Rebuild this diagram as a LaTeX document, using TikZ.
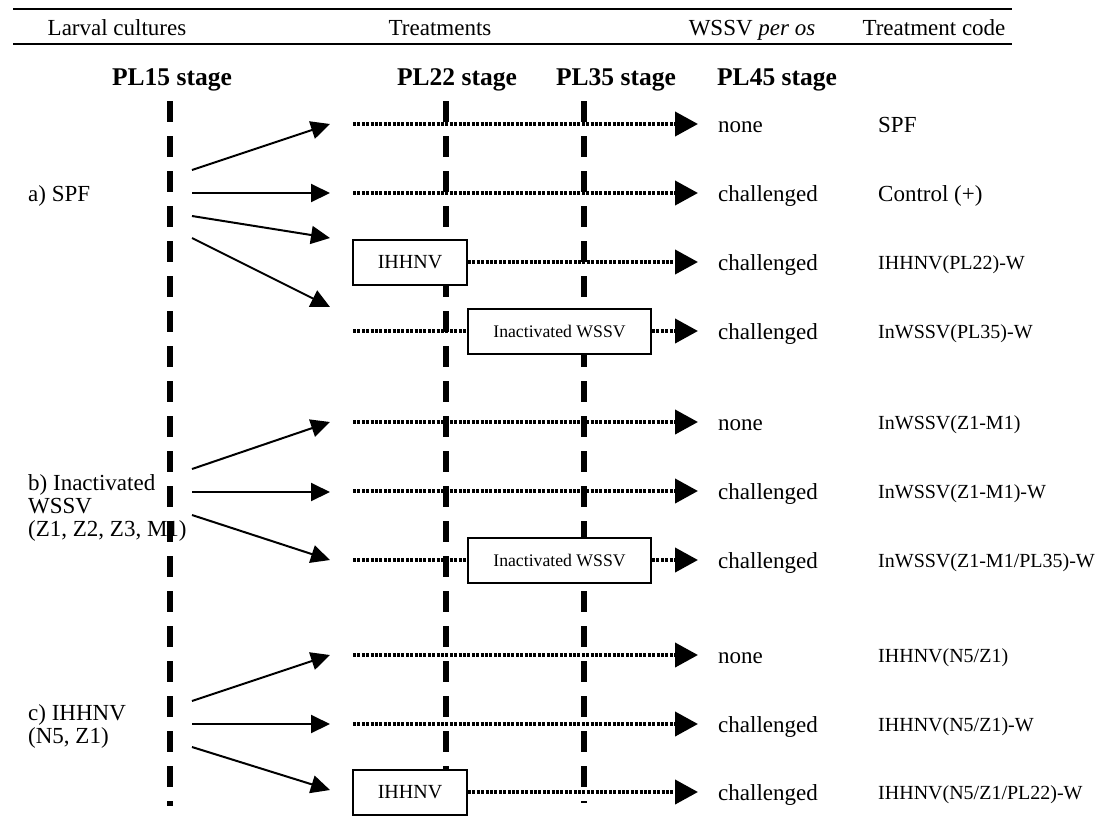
\documentclass[tikz,border=0pt]{standalone}
\usepackage{fontspec}
\setmainfont{Liberation Serif}
\usepackage{tikz}
\usetikzlibrary{arrows.meta}
\usetikzlibrary{calc}

\tikzset{
    txt/.style={inner sep=0pt, font=\fontsize{23}{23}\selectfont, text height=18pt, text depth=2pt},
    codetxt/.style={inner sep=0pt, anchor=west, font=\fontsize{20}{20}\selectfont, text height=17pt, text depth=2pt},
    stagetxt/.style={inner sep=0pt, font=\fontsize{25.5}{26}\selectfont\bfseries},
    stageline/.style={line width=6pt, dash pattern=on 21pt off 14pt},
    dotline/.style={line width=4pt, dash pattern=on 3pt off 1.4pt, -{Triangle[length=23pt,width=24pt]}},
    solidarr/.style={line width=2pt, -{Triangle[length=19pt,width=18pt]}},
    treatbox/.style={draw, line width=2pt, fill=white, inner sep=0pt, minimum height=45pt}
}

\begin{document}
\begin{tikzpicture}[x=1pt,y=-1pt]
            \useasboundingbox (0,0) rectangle (1103,823);
            % header rules and titles
            \draw[line width=1.5pt] (13,9) -- (1012,9);
            \draw[line width=1.5pt] (13,44) -- (1012,44);
            \node[txt] (hLarval) at (117,27) {Larval cultures};
            \node[txt] (hTreat) at (440,27) {Treatments};
            \node[txt] (hWssv) at (752,27) {WSSV \textit{per os}};
            \node[txt] (hCode) at (934,27) {Treatment code};
            % stages
            \node[stagetxt] (st15) at (172,80) {PL15 stage};
            \node[stagetxt] (st22) at (457,80) {PL22 stage};
            \node[stagetxt] (st35) at (616,80) {PL35 stage};
            \node[stagetxt] (st45) at (777,80) {PL45 stage};
            \coordinate (l15a) at (170,101);
            \coordinate (l15b) at (170,806);
            \coordinate (l22a) at (446,101);
            \coordinate (l22b) at (446,813);
            \coordinate (l35a) at (584,101);
            \coordinate (l35b) at (584,803);
            \draw[stageline] (l15a) -- (l15b);
            \draw[stageline] (l22a) -- (l22b);
            \draw[stageline] (l35a) -- (l35b);
            % larval cultures
            \node[txt, anchor=west] (grpA) at (28,193) {a) SPF};
            \node[txt, anchor=west, align=left, text height=, text depth=] (grpB) at (28,508) {b) Inactivated\\WSSV\\(Z1, Z2, Z3, M1)};
            \node[txt, anchor=west, align=left, text height=, text depth=] (grpC) at (28,726) {c) IHHNV\\(N5, Z1)};
            % treatment boxes
            \node[treatbox, minimum width=114pt, font=\fontsize{20}{20}\selectfont] (boxA) at (410,262) {IHHNV};
            \node[treatbox, minimum width=183pt, font=\fontsize{17.7}{18}\selectfont] (boxB) at (559.5,331) {Inactivated WSSV};
            \node[treatbox, minimum width=183pt, font=\fontsize{17.7}{18}\selectfont] (boxC) at (559.5,560) {Inactivated WSSV};
            \node[treatbox, minimum width=114pt, font=\fontsize{20}{20}\selectfont] (boxD) at (410,792) {IHHNV};
            % outcome and code columns
            \node[txt, anchor=west] (out1) at (718,124) {none};
            \node[txt, anchor=west] (out2) at (718,193) {challenged};
            \node[txt, anchor=west] (out3) at (718,262) {challenged};
            \node[txt, anchor=west] (out4) at (718,331) {challenged};
            \node[txt, anchor=west] (out5) at (718,422) {none};
            \node[txt, anchor=west] (out6) at (718,491) {challenged};
            \node[txt, anchor=west] (out7) at (718,560) {challenged};
            \node[txt, anchor=west] (out8) at (718,655) {none};
            \node[txt, anchor=west] (out9) at (718,724) {challenged};
            \node[txt, anchor=west] (out10) at (718,792) {challenged};
            \node[txt, anchor=west] (code1) at (878,124) {SPF};
            \node[txt, anchor=west] (code2) at (878,193) {Control (+)};
            \node[codetxt] (code3) at (878,262) {IHHNV(PL22)-W};
            \node[codetxt] (code4) at (878,331) {InWSSV(PL35)-W};
            \node[codetxt] (code5) at (878,422) {InWSSV(Z1-M1)};
            \node[codetxt] (code6) at (878,491) {InWSSV(Z1-M1)-W};
            \node[codetxt] (code7) at (878,560) {InWSSV(Z1-M1/PL35)-W};
            \node[codetxt] (code8) at (878,655) {IHHNV(N5/Z1)};
            \node[codetxt] (code9) at (878,724) {IHHNV(N5/Z1)-W};
            \node[codetxt] (code10) at (878,792) {IHHNV(N5/Z1/PL22)-W};
            % arrow ends
            \coordinate (a1) at (192,170);
            \coordinate (a2) at (192,193);
            \coordinate (a3) at (192,216);
            \coordinate (a4) at (192,238);
            \coordinate (b1) at (192,469);
            \coordinate (b2) at (192,492);
            \coordinate (b3) at (192,515);
            \coordinate (c1) at (192,701);
            \coordinate (c2) at (192,724);
            \coordinate (c3) at (192,747);
            \coordinate (t1) at (330,124);
            \coordinate (t2) at (330,193);
            \coordinate (t3) at (330,238);
            \coordinate (t4) at (330,307);
            \coordinate (t5) at (330,422);
            \coordinate (t6) at (330,492);
            \coordinate (t7) at (330,560);
            \coordinate (t8) at (330,655);
            \coordinate (t9) at (330,724);
            \coordinate (t10) at (330,790);
            \draw[solidarr] (a1) -- (t1);
            \draw[solidarr] (a2) -- (t2);
            \draw[solidarr] (a3) -- (t3);
            \draw[solidarr] (a4) -- (t4);
            \draw[solidarr] (b1) -- (t5);
            \draw[solidarr] (b2) -- (t6);
            \draw[solidarr] (b3) -- (t7);
            \draw[solidarr] (c1) -- (t8);
            \draw[solidarr] (c2) -- (t9);
            \draw[solidarr] (c3) -- (t10);
            % dotted treatment lines
            \coordinate (d1) at (353,124);
            \coordinate (d2) at (353,193);
            \coordinate (d4) at (353,331);
            \coordinate (d5) at (353,422);
            \coordinate (d6) at (353,491);
            \coordinate (d7) at (353,560);
            \coordinate (d8) at (353,655);
            \coordinate (d9) at (353,724);
            \draw[dotline] (d1) -- ($(out1.west)+(-20,0)$);
            \draw[dotline] (d2) -- ($(out2.west)+(-20,0)$);
            \draw[dotline] (boxA.east) -- ($(out3.west)+(-20,0)$);
            \draw[dotline, -] (d4) -- (boxB.west);
            \draw[dotline] (boxB.east) -- ($(out4.west)+(-20,0)$);
            \draw[dotline] (d5) -- ($(out5.west)+(-20,0)$);
            \draw[dotline] (d6) -- ($(out6.west)+(-20,0)$);
            \draw[dotline, -] (d7) -- (boxC.west);
            \draw[dotline] (boxC.east) -- ($(out7.west)+(-20,0)$);
            \draw[dotline] (d8) -- ($(out8.west)+(-20,0)$);
            \draw[dotline] (d9) -- ($(out9.west)+(-20,0)$);
            \draw[dotline] (boxD.east) -- ($(out10.west)+(-20,0)$);
        \end{tikzpicture}
\end{document}
